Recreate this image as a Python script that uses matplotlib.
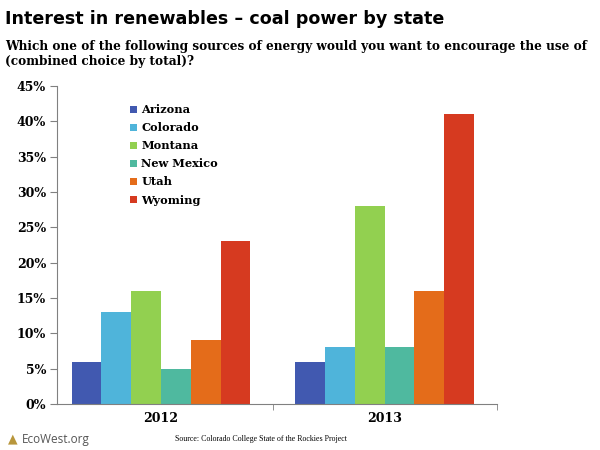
import matplotlib.pyplot as plt
from matplotlib.ticker import MultipleLocator, FuncFormatter, FixedLocator
import numpy as np

# Data
years = ['2012', '2013']
states = ['Arizona', 'Colorado', 'Montana', 'New Mexico', 'Utah', 'Wyoming']
values = {
    'Arizona':    [6, 6],
    'Colorado':   [13, 8],
    'Montana':    [16, 28],
    'New Mexico': [5, 8],
    'Utah':       [9, 16],
    'Wyoming':    [23, 41],
}
colors = ['#4159B0', '#4FB4DA', '#92D050', '#4FB99F', '#E46C1A', '#D63A20']

serif = 'DejaVu Serif'

fig = plt.figure(figsize=(6, 4.5), dpi=100)
ax = fig.add_axes([57 / 600, 1 - 404 / 450, 440 / 600, 318 / 450])

x = np.arange(len(years))
w = 0.8 / len(states)
for i, (state, c) in enumerate(zip(states, colors)):
    ax.bar(x - 0.4 + w * (i + 0.5), values[state], width=w, color=c, label=state)

ax.set_xlim(-0.465, 1.503)
ax.set_ylim(0, 45)
ax.yaxis.set_major_locator(MultipleLocator(5))
ax.yaxis.set_major_formatter(FuncFormatter(lambda v, p: f'{v:.0f}%'))
ax.set_xticks(x)
ax.set_xticklabels(years)
ax.xaxis.set_minor_locator(FixedLocator([0.5, 1.503]))
ax.tick_params(axis='x', which='major', length=0, pad=6)
ax.tick_params(axis='x', which='minor', length=4, color='#808080')
ax.tick_params(axis='y', length=5, color='#808080', pad=3)
for lbl in ax.get_xticklabels() + ax.get_yticklabels():
    lbl.set_fontfamily(serif)
    lbl.set_fontweight('bold')
    lbl.set_fontsize(9)

for s in ['top', 'right']:
    ax.spines[s].set_visible(False)
for s in ['left', 'bottom']:
    ax.spines[s].set_color('#808080')

leg = ax.legend(loc='upper left', bbox_to_anchor=(0.142, 0.975), frameon=False,
                prop={'family': serif, 'weight': 'bold', 'size': 8.2},
                handlelength=0.6, handleheight=0.6, handletextpad=0.4,
                labelspacing=0.62)

# Titles
fig.text(5 / 600, 1 - 19 / 450, 'Interest in renewables \u2013 coal power by state',
         fontsize=12.6, fontweight='bold', va='center', ha='left')
fig.text(5 / 600, 1 - 40 / 450,
         'Which one of the following sources of energy would you want to encourage the use of\n(combined choice by total)?',
         fontsize=8.7, fontweight='bold', family=serif, va='top', ha='left',
         linespacing=1.25)

# Footer
fig.text(8 / 600, 1 - 439 / 450, '\u25b2', color='#B8963C', fontsize=9, va='center')
fig.text(22 / 600, 1 - 439 / 450, 'EcoWest.org', color='#555555', fontsize=8.5,
         va='center', family='Open Sans')
fig.text(261 / 600, 1 - 439 / 450, 'Source: Colorado College State of the Rockies Project',
         fontsize=5.7, family='Liberation Serif', ha='center', va='center')

fig.savefig('out.png', dpi=100)
